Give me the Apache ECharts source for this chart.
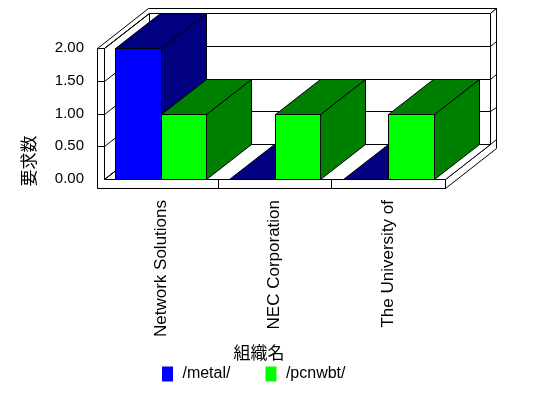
<!DOCTYPE html>
<html>
<head>
<meta charset="utf-8">
<script src="https://cdn.jsdelivr.net/npm/echarts@6/dist/echarts.min.js"></script>
<style>
  html, body { margin: 0; padding: 0; background: #fff; }
  #main { width: 548px; height: 398px; }
</style>
</head>
<body>
<div id="main"></div>
<script>
// data
var categories = ['Network Solutions', 'NEC Corporation', 'The University of'];
var seriesNames = ['/metal/', '/pcnwbt/'];
var metalValues = [2, 0, 0];
var pcnwbtValues = [1, 1, 1];
var yTicks = [0, 0.5, 1, 1.5, 2];

// colours: front face, top/side face
var frontColors = ['#0000ff', '#00ff00'];
var shadeColors = ['#000080', '#008000'];

// fake 3d settings (pixels)
var DX = 45, DY = -35;      // depth vector
var WALL = 7;               // left wall thickness
var FLOOR = 9;              // floor thickness
var BACK = 0.13;            // back wall thickness, part of depth
var GAP = 0.1, BAR_W = 0.4; // part of category band

function P(x, y, z) {
    return [Math.round(x + z * DX) + 0.5, Math.round(y + z * DY) + 0.5];
}
function poly(pts, fill) {
    return { type: 'polygon', shape: { points: pts },
             style: { fill: fill, stroke: '#000', lineWidth: 1 } };
}
function seg(a, b) {
    return { type: 'line', shape: { x1: a[0], y1: a[1], x2: b[0], y2: b[1] },
             style: { stroke: '#000', lineWidth: 1 } };
}

// walls, floor and grid lines
var renderFrame = function(params, api) {
    var cs = params.coordSys;
    var L = cs.x, R = cs.x + cs.width, T = cs.y, B = cs.y + cs.height;
    var k = 1 + BACK;
    var ch = [];
    // back wall
    ch.push(poly([P(L, T, 1), P(R, T, 1), P(R, B, 1), P(L, B, 1)], '#fff'));
    // top of left + back wall
    ch.push(poly([P(L - WALL, T, 0), P(L, T, 0), P(L, T, 1), P(R, T, 1), P(R, T, k), P(L - WALL, T, k)], '#fff'));
    // right side of back wall + floor
    ch.push(poly([P(R, T, 1), P(R, T, k), P(R, B + FLOOR, k), P(R, B + FLOOR, 0), P(R, B, 0), P(R, B, 1)], '#fff'));
    // left wall inside
    ch.push(poly([P(L, T, 0), P(L, T, 1), P(L, B, 1), P(L, B, 0)], '#fff'));
    // floor top
    ch.push(poly([P(L, B, 0), P(R, B, 0), P(R, B, 1), P(L, B, 1)], '#fff'));
    // front of left wall + floor
    ch.push(poly([P(L - WALL, T, 0), P(L, T, 0), P(L, B, 0), P(R, B, 0), P(R, B + FLOOR, 0), P(L - WALL, B + FLOOR, 0)], '#fff'));
    for (var i = 0; i < yTicks.length; i++) {
        var y = api.coord([0, yTicks[i]])[1];
        ch.push(seg(P(L, y, 0), P(L, y, 1)));
        if (y > T + 1) {
            ch.push(seg(P(L, y, 1), P(R, y, 1)));
            ch.push(seg(P(R, y, 1), P(R, y, k)));
        }
        if (y > T + 1 && y < B - 1) {
            ch.push(seg(P(L - WALL, y, 0), P(L, y, 0)));
        }
    }
    // floor dividers between categories
    var band = api.size([1, 0])[0];
    for (var c = 1; c < categories.length; c++) {
        var x = L + band * c;
        ch.push(seg(P(x, B, 0), P(x, B + FLOOR, 0)));
    }
    return { type: 'group', children: ch };
};

var renderBar = function(params, api) {
    var s = params.seriesIndex - 1;
    var ci = api.value(0);
    var top = api.coord([ci, api.value(1)]);
    var base = api.coord([ci, 0]);
    var band = api.size([1, 0])[0];
    var x0 = top[0] - band / 2 + band * GAP + s * band * BAR_W;
    var x1 = x0 + band * BAR_W;
    var yt = top[1], yb = base[1];
    return {
        type: 'group',
        children: [
            poly([P(x1, yt, 0), P(x1, yt, 1), P(x1, yb, 1), P(x1, yb, 0)], shadeColors[s]),
            poly([P(x0, yt, 0), P(x1, yt, 0), P(x1, yt, 1), P(x0, yt, 1)], shadeColors[s]),
            poly([P(x0, yt, 0), P(x1, yt, 0), P(x1, yb, 0), P(x0, yb, 0)], frontColors[s])
        ]
    };
};

function toData(vals) {
    var out = [];
    for (var i = 0; i < vals.length; i++) out.push([i, vals[i]]);
    return out;
}

var myChart = echarts.init(document.getElementById('main'));
var option = {
    animation: false,
    backgroundColor: '#fff',
    textStyle: { fontFamily: 'Liberation Sans, Noto Sans CJK JP', color: '#000' },
    grid: { left: 104, right: 103, top: 48, bottom: 219, containLabel: false },
    legend: {
        data: seriesNames,
        left: 162,
        top: 366,
        padding: 0,
        icon: 'rect',
        itemWidth: 11,
        itemHeight: 15,
        itemGap: 35,
        formatter: function(n) { return ' ' + n; },
        textStyle: { fontSize: 16, color: '#000' }
    },
    xAxis: {
        type: 'category',
        data: categories,
        axisLine: { show: false },
        axisTick: { show: false },
        splitLine: { show: false },
        axisLabel: { rotate: 90, interval: 0, margin: 21, fontSize: 17, color: '#000' }
    },
    yAxis: {
        type: 'value',
        min: 0,
        max: 2,
        interval: 0.5,
        axisLine: { show: false },
        axisTick: { show: false },
        splitLine: { show: false },
        axisLabel: {
            margin: 20, fontSize: 15, color: '#000',
            formatter: function(v) { return v.toFixed(2); }
        }
    },
    graphic: [
        { type: 'text', x: 259, y: 353, silent: true,
          style: { text: '組織名', fill: '#000', fontSize: 17, fontFamily: 'Noto Sans CJK JP',
                   textAlign: 'center', textVerticalAlign: 'middle' } },
        { type: 'text', x: 29, y: 161, rotation: Math.PI / 2, silent: true,
          style: { text: '要求数', fill: '#000', fontSize: 17, fontFamily: 'Noto Sans CJK JP',
                   textAlign: 'center', textVerticalAlign: 'middle' } }
    ],
    series: [
        { name: 'frame', type: 'custom', z: 1, silent: true, renderItem: renderFrame, data: [[0, 0]] },
        { name: seriesNames[0], type: 'custom', z: 2, renderItem: renderBar,
          itemStyle: { color: frontColors[0] }, data: toData(metalValues) },
        { name: seriesNames[1], type: 'custom', z: 2, renderItem: renderBar,
          itemStyle: { color: frontColors[1] }, data: toData(pcnwbtValues) }
    ]
};
myChart.setOption(option);
</script>
</body>
</html>
